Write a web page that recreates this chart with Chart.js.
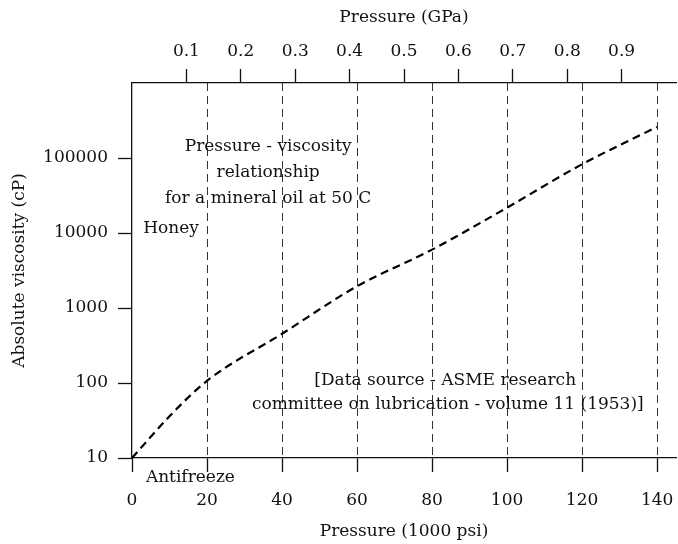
<!DOCTYPE html>
<html>
<head>
<meta charset="utf-8">
<script src="https://cdn.jsdelivr.net/npm/chart.js@4/dist/chart.umd.min.js"></script>
<style>
  html, body { margin: 0; padding: 0; background: #ffffff; }
  #wrap { width: 678px; height: 544px; }
</style>
</head>
<body>
<div id="wrap"><canvas id="c" width="678" height="544"></canvas></div>
<script>
// ---- data ----
const pressureKpsi = [0, 10, 20, 40, 60, 80, 100, 120, 140];
const viscosityCp  = [10, 36, 107, 453, 1950, 6000, 21800, 82600, 260000];
const psiTicks     = [0, 20, 40, 60, 80, 100, 120, 140];
const gpaTicks     = [0.1, 0.2, 0.3, 0.4, 0.5, 0.6, 0.7, 0.8, 0.9];
const viscTicks    = [10, 100, 1000, 10000, 100000];
const GPA_PER_KPSI = 0.006894757;

const FONT = { family: 'DejaVu Serif', size: 17 };
const INK = '#111111';

const notes = [
  { text: 'Pressure - viscosity', x: 36.3, y: 140000, align: 'center' },
  { text: 'relationship', x: 36.3, y: 64000, align: 'center' },
  { text: 'for a mineral oil at 50 C', x: 36.3, y: 29000, align: 'center' },
  { text: 'Honey', x: 3.0, y: 11600, align: 'left' },
  { text: '[Data source - ASME research', x: 83.5, y: 108, align: 'center' },
  { text: 'committee on lubrication - volume 11 (1953)]', x: 84.2, y: 52, align: 'center' },
  { text: 'Antifreeze', x: 3.7, y: 5.5, align: 'left' }
];

const notesPlugin = {
  id: 'notes',
  afterDraw(chart) {
    const { ctx, scales } = chart;
    ctx.save();
    ctx.fillStyle = INK;
    ctx.font = FONT.size + 'px "' + FONT.family + '"';
    ctx.textBaseline = 'middle';
    notes.forEach(n => {
      ctx.textAlign = n.align;
      ctx.fillText(n.text, scales.x.getPixelForValue(n.x), scales.y.getPixelForValue(n.y));
    });
    ctx.restore();
  }
};

const points = pressureKpsi.map((p, i) => ({ x: p, y: viscosityCp[i] }));

const noPad = s => { s.paddingLeft = 0; s.paddingRight = 0; s.paddingTop = 0; s.paddingBottom = 0; };

new Chart(document.getElementById('c'), {
  type: 'line',
  data: {
    datasets: [{
      data: points,
      borderColor: '#000000',
      borderWidth: 2.2,
      borderDash: [8, 5],
      pointRadius: 0,
      fill: false,
      cubicInterpolationMode: 'monotone',
      xAxisID: 'x',
      yAxisID: 'y',
      clip: false
    }]
  },
  options: {
    responsive: false,
    animation: false,
    devicePixelRatio: 1,
    layout: { padding: { left: 0, right: 2, top: 0, bottom: 0 } },
    plugins: { legend: { display: false }, tooltip: { enabled: false } },
    scales: {
      x: {
        type: 'linear',
        position: 'bottom',
        min: 0,
        max: 1 / GPA_PER_KPSI,
        afterBuildTicks: s => { s.ticks = psiTicks.map(v => ({ value: v })); },
        afterFit: s => { s.height = 86; noPad(s); },
        ticks: { color: INK, font: FONT, padding: 18, maxRotation: 0, autoSkip: false,
                 callback: v => String(v) },
        grid: { display: true, drawOnChartArea: true, drawTicks: true,
                color: c => (c.tick && c.tick.value === 0) ? 'rgba(0,0,0,0)' : '#333333',
                lineWidth: 1, tickLength: 14, tickColor: INK, tickWidth: 1.3 },
        border: { display: true, color: INK, width: 1.3, dash: [8, 5] },
        title: { display: true, text: 'Pressure (1000 psi)', color: INK, font: FONT,
                 padding: { top: 0, bottom: 2 } }
      },
      x2: {
        type: 'linear',
        position: 'top',
        min: 0,
        max: 1,
        afterBuildTicks: s => { s.ticks = gpaTicks.map(v => ({ value: v })); },
        afterFit: s => { s.height = 83; noPad(s); },
        ticks: { color: INK, font: FONT, padding: 7, maxRotation: 0, autoSkip: false,
                 callback: v => Number(v).toFixed(1) },
        grid: { display: true, drawOnChartArea: false, drawTicks: true, tickLength: 14,
                tickColor: INK, tickWidth: 1.3, color: INK },
        border: { display: true, color: INK, width: 1.3 },
        title: { display: true, text: 'Pressure (GPa)', color: INK, font: FONT,
                 padding: { top: 7, bottom: 0 } }
      },
      y: {
        type: 'logarithmic',
        position: 'left',
        min: 10,
        max: 1000000,
        afterBuildTicks: s => { s.ticks = viscTicks.map(v => ({ value: v })); },
        afterFit: s => { s.width = 132; noPad(s); },
        ticks: { color: INK, font: FONT, padding: 10, autoSkip: false,
                 callback: v => String(v) },
        grid: { display: true, drawOnChartArea: false, drawTicks: true, tickLength: 14,
                tickColor: INK, tickWidth: 1.3, color: INK },
        border: { display: true, color: INK, width: 1.3 },
        title: { display: true, text: 'Absolute viscosity (cP)', color: INK, font: FONT,
                 padding: { top: 9, bottom: 0 } }
      }
    }
  },
  plugins: [notesPlugin]
});
</script>
</body>
</html>
